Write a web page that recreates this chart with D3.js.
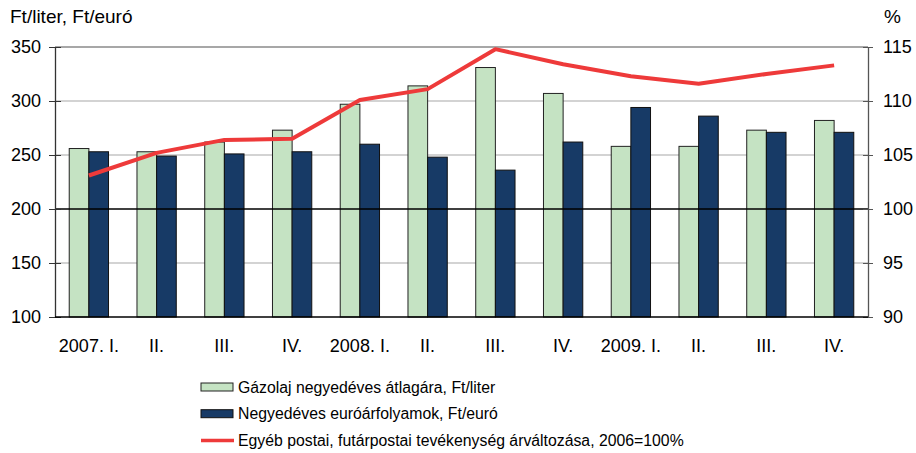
<!DOCTYPE html>
<html>
<head>
<meta charset="utf-8">
<script src="https://cdn.jsdelivr.net/npm/d3@7"></script>
<style>
  body { margin: 0; background: #fff; }
  text { font-family: "Liberation Sans", Arial, sans-serif; fill: #000; }
</style>
</head>
<body>
<svg id="chart" width="916" height="453"></svg>
<script>
const quarters = ['2007. I.', 'II.', 'III.', 'IV.', '2008. I.', 'II.', 'III.', 'IV.', '2009. I.', 'II.', 'III.', 'IV.'];
const diesel = [256, 253, 262, 273, 297, 314, 331, 307, 258, 258, 273, 282];
const euro = [253, 249, 251, 253, 260, 248, 236, 262, 294, 286, 271, 271];
const postal = [103.1, 105.2, 106.4, 106.5, 110.1, 111.1, 114.8, 113.4, 112.3, 111.6, 112.5, 113.3];

const leftTicks = [100, 150, 200, 250, 300, 350];
const rightTicks = [90, 95, 100, 105, 110, 115];
const legendLabels = [
  'Gázolaj negyedéves átlagára, Ft/liter',
  'Negyedéves euróárfolyamok, Ft/euró',
  'Egyéb postai, futárpostai tevékenység árváltozása, 2006=100%'
];

const margin = {top: 47, right: 48, bottom: 136, left: 55};
const width = 916, height = 453;
const plotW = width - margin.left - margin.right;
const plotH = height - margin.top - margin.bottom;
const fontBig = 18;

const svg = d3.select('#chart');
const g = svg.append('g').attr('transform', `translate(${margin.left},${margin.top})`);

const x = d3.scaleBand().domain(quarters.map((d, i) => i)).range([0, plotW]).paddingInner(0.42).paddingOuter(0.21);
const sub = d3.scaleBand().domain(['diesel', 'euro']).range([0, x.bandwidth()]);
const yL = d3.scaleLinear().domain([100, 350]).range([plotH, 0]);
const yR = d3.scaleLinear().domain([90, 115]).range([plotH, 0]);
const cx = i => x(i) + x.bandwidth() / 2;

// gridlines
g.selectAll('.grid')
  .data(leftTicks.filter(d => d !== 100 && d !== 200))
  .join('line')
    .attr('x1', 0).attr('x2', plotW)
    .attr('y1', d => yL(d)).attr('y2', d => yL(d))
    .attr('stroke', d => d === 350 ? '#8a8a8a' : '#c4c4c4')
    .attr('stroke-width', d => d === 350 ? 1.5 : 1.3);

// bars
const groups = g.selectAll('.q')
  .data(quarters.map((q, i) => ({i, diesel: diesel[i], euro: euro[i]})))
  .join('g').attr('transform', d => `translate(${x(d.i)},0)`);

groups.append('rect')
  .attr('x', sub('diesel')).attr('width', sub.bandwidth())
  .attr('y', d => yL(d.diesel)).attr('height', d => plotH - yL(d.diesel))
  .attr('fill', '#c5e3c3').attr('stroke', '#222').attr('stroke-width', 1);

groups.append('rect')
  .attr('x', sub('euro')).attr('width', sub.bandwidth())
  .attr('y', d => yL(d.euro)).attr('height', d => plotH - yL(d.euro))
  .attr('fill', '#173a66').attr('stroke', '#111').attr('stroke-width', 1);

// 200 baseline
g.append('line')
  .attr('x1', 0).attr('x2', plotW)
  .attr('y1', yL(200)).attr('y2', yL(200))
  .attr('stroke', '#000').attr('stroke-width', 1.3);

// line series
g.append('path')
  .datum(postal)
  .attr('fill', 'none')
  .attr('stroke', '#ee3a3a')
  .attr('stroke-width', 4)
  .attr('stroke-linejoin', 'round')
  .attr('d', d3.line().x((d, i) => cx(i)).y(d => yR(d)));

// axes
const leftAxis = g.append('g')
  .call(d3.axisLeft(yL).tickValues(leftTicks).tickSize(6).tickPadding(8).tickSizeOuter(0));
leftAxis.select('.domain').attr('stroke', '#333').attr('stroke-width', 1.3);
leftAxis.selectAll('.tick line').attr('stroke', '#333').attr('x2', 6).attr('x1', -6);
leftAxis.selectAll('.tick text').attr('font-size', fontBig).attr('x', -14).style('font-family', '"Liberation Sans", Arial, sans-serif');

const rightAxis = g.append('g').attr('transform', `translate(${plotW},0)`)
  .call(d3.axisRight(yR).tickValues(rightTicks).tickSize(5).tickPadding(10).tickSizeOuter(0));
rightAxis.select('.domain').attr('stroke', '#555').attr('stroke-width', 1.3);
rightAxis.selectAll('.tick line').attr('stroke', '#555').attr('x1', -5).attr('x2', 5);
rightAxis.selectAll('.tick text').attr('font-size', fontBig).attr('x', 15).style('font-family', '"Liberation Sans", Arial, sans-serif');

// bottom axis line
g.append('line')
  .attr('x1', 0).attr('x2', plotW)
  .attr('y1', plotH).attr('y2', plotH)
  .attr('stroke', '#000').attr('stroke-width', 1.5);

g.selectAll('.xlab')
  .data(quarters)
  .join('text')
    .attr('x', (d, i) => cx(i))
    .attr('y', plotH + 35)
    .attr('text-anchor', 'middle')
    .attr('font-size', fontBig)
    .text(d => d);

// unit labels
svg.append('text').attr('x', 10).attr('y', 23).attr('font-size', 19).text('Ft/liter, Ft/euró');
svg.append('text').attr('x', 884).attr('y', 23).attr('font-size', 19).text('%');

// legend
const legend = svg.append('g').attr('transform', 'translate(201,387)');
const rowH = 26.7;
legend.append('rect').attr('x', 0).attr('y', -4).attr('width', 32).attr('height', 8)
  .attr('fill', '#c5e3c3').attr('stroke', '#222');
legend.append('rect').attr('x', 0).attr('y', rowH - 4).attr('width', 32).attr('height', 8)
  .attr('fill', '#173a66').attr('stroke', '#111');
legend.append('line').attr('x1', 0).attr('x2', 33).attr('y1', rowH * 2).attr('y2', rowH * 2)
  .attr('stroke', '#ee3a3a').attr('stroke-width', 3.5);
legend.selectAll('.lt')
  .data(legendLabels)
  .join('text')
    .attr('x', 37)
    .attr('y', (d, i) => i * rowH)
    .attr('dy', '0.35em')
    .attr('font-size', 15.8)
    .text(d => d);
</script>
</body>
</html>
